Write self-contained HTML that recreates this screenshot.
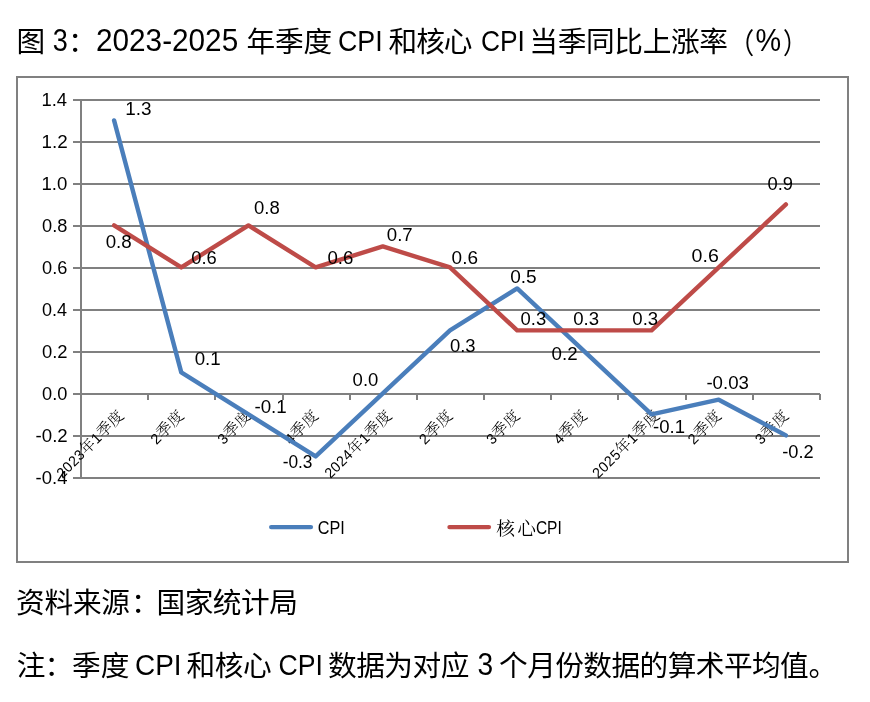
<!DOCTYPE html>
<html lang="zh-CN"><head><meta charset="utf-8"><title>图 3：2023-2025 年季度 CPI 和核心 CPI 当季同比上涨率（%）</title>
<style>
html,body{margin:0;padding:0;background:#fff;}
svg{display:block;font-family:"Liberation Sans","Noto Sans CJK SC",sans-serif;}
text{fill:#000;}
</style></head><body>
<svg width="870" height="702" viewBox="0 0 870 702">
<rect x="0" y="0" width="870" height="702" fill="#fff"/>
<rect x="17" y="77" width="831" height="485" fill="#fff" stroke="#808080" stroke-width="2"/>
<g stroke="#808080" stroke-width="2" fill="none"><line x1="73" y1="100" x2="820" y2="100"/><line x1="73" y1="142" x2="820" y2="142"/><line x1="73" y1="184" x2="820" y2="184"/><line x1="73" y1="226" x2="820" y2="226"/><line x1="73" y1="268" x2="820" y2="268"/><line x1="73" y1="310" x2="820" y2="310"/><line x1="73" y1="352" x2="820" y2="352"/><line x1="73" y1="394" x2="820" y2="394"/><line x1="73" y1="436" x2="820" y2="436"/><line x1="73" y1="478" x2="820" y2="478"/>
<line x1="81" y1="99" x2="81" y2="479"/>
<line x1="148" y1="394" x2="148" y2="400"/><line x1="215" y1="394" x2="215" y2="400"/><line x1="283" y1="394" x2="283" y2="400"/><line x1="350" y1="394" x2="350" y2="400"/><line x1="417" y1="394" x2="417" y2="400"/><line x1="484" y1="394" x2="484" y2="400"/><line x1="551" y1="394" x2="551" y2="400"/><line x1="618" y1="394" x2="618" y2="400"/><line x1="686" y1="394" x2="686" y2="400"/><line x1="753" y1="394" x2="753" y2="400"/><line x1="820" y1="394" x2="820" y2="400"/></g>
<text transform="translate(124.99,416.50) rotate(-45) scale(0.972,1)" text-anchor="end" letter-spacing="0.45" font-size="15.6" font-family='"Liberation Sans","Noto Serif CJK SC",serif' font-weight="300"><tspan font-size="14.6">2023</tspan>年<tspan font-size="14.6">1</tspan>季度</text>
<text transform="translate(185.14,416.50) rotate(-45)" text-anchor="end" letter-spacing="0.45" font-size="15.6" font-family='"Liberation Sans","Noto Serif CJK SC",serif' font-weight="300"><tspan font-size="14.6">2</tspan>季度</text>
<text transform="translate(252.32,416.50) rotate(-45)" text-anchor="end" letter-spacing="0.45" font-size="15.6" font-family='"Liberation Sans","Noto Serif CJK SC",serif' font-weight="300"><tspan font-size="14.6">3</tspan>季度</text>
<text transform="translate(319.51,416.50) rotate(-45)" text-anchor="end" letter-spacing="0.45" font-size="15.6" font-family='"Liberation Sans","Noto Serif CJK SC",serif' font-weight="300"><tspan font-size="14.6">4</tspan>季度</text>
<text transform="translate(392.99,416.50) rotate(-45) scale(0.972,1)" text-anchor="end" letter-spacing="0.45" font-size="15.6" font-family='"Liberation Sans","Noto Serif CJK SC",serif' font-weight="300"><tspan font-size="14.6">2024</tspan>年<tspan font-size="14.6">1</tspan>季度</text>
<text transform="translate(453.87,416.50) rotate(-45)" text-anchor="end" letter-spacing="0.45" font-size="15.6" font-family='"Liberation Sans","Noto Serif CJK SC",serif' font-weight="300"><tspan font-size="14.6">2</tspan>季度</text>
<text transform="translate(521.05,416.50) rotate(-45)" text-anchor="end" letter-spacing="0.45" font-size="15.6" font-family='"Liberation Sans","Noto Serif CJK SC",serif' font-weight="300"><tspan font-size="14.6">3</tspan>季度</text>
<text transform="translate(588.23,416.50) rotate(-45)" text-anchor="end" letter-spacing="0.45" font-size="15.6" font-family='"Liberation Sans","Noto Serif CJK SC",serif' font-weight="300"><tspan font-size="14.6">4</tspan>季度</text>
<text transform="translate(660.79,416.50) rotate(-45) scale(0.972,1)" text-anchor="end" letter-spacing="0.45" font-size="15.6" font-family='"Liberation Sans","Noto Serif CJK SC",serif' font-weight="300"><tspan font-size="14.6">2025</tspan>年<tspan font-size="14.6">1</tspan>季度</text>
<text transform="translate(722.60,416.50) rotate(-45)" text-anchor="end" letter-spacing="0.45" font-size="15.6" font-family='"Liberation Sans","Noto Serif CJK SC",serif' font-weight="300"><tspan font-size="14.6">2</tspan>季度</text>
<text transform="translate(789.78,416.50) rotate(-45)" text-anchor="end" letter-spacing="0.45" font-size="15.6" font-family='"Liberation Sans","Noto Serif CJK SC",serif' font-weight="300"><tspan font-size="14.6">3</tspan>季度</text>
<polyline points="114.09,120.40 181.27,372.40 248.45,414.40 315.64,456.40 382.82,393.40 450.00,330.40 517.18,288.40 584.36,351.40 651.55,414.40 718.73,399.70 785.91,435.40" fill="none" stroke="#4a7ebb" stroke-width="4.4" stroke-linecap="round" stroke-linejoin="round"/>
<polyline points="114.09,225.40 181.27,267.40 248.45,225.40 315.64,267.40 382.82,246.40 450.00,267.40 517.18,330.40 584.36,330.40 651.55,330.40 718.73,267.40 785.91,204.40" fill="none" stroke="#be4b48" stroke-width="4.4" stroke-linecap="round" stroke-linejoin="round"/>
<line x1="271.2" y1="527.1" x2="310.9" y2="527.1" stroke="#4a7ebb" stroke-width="4.4" stroke-linecap="round"/>
<line x1="449.5" y1="527.1" x2="488.9" y2="527.1" stroke="#be4b48" stroke-width="4.4" stroke-linecap="round"/>
<text x="16.50" y="52.20" font-size="28.7">图</text>
<text transform="translate(52.64,51.30) scale(0.8459,1)" font-size="32.0">3</text>
<text x="67.90" y="52.20" font-size="28.7">：</text>
<text transform="translate(96.01,51.30) scale(0.9298,1)" font-size="32.0">2023-2025</text>
<text x="246.50" y="52.20" font-size="28.7" letter-spacing="-0.225">年季度</text>
<text transform="translate(337.94,51.30) scale(0.9089,1)" font-size="29.5">CPI</text>
<text x="388.45" y="52.20" font-size="28.7" letter-spacing="-0.975">和核心</text>
<text transform="translate(480.96,51.30) scale(0.8933,1)" font-size="29.5">CPI</text>
<text x="529.35" y="52.20" font-size="28.7" letter-spacing="-0.358">当季同比上涨率</text>
<text transform="translate(728.47,54.00) scale(0.8966,1)" font-size="28.7">（</text>
<text transform="translate(755.48,51.30) scale(0.9000,1)" font-size="32.0">%</text>
<text transform="translate(783.04,54.00) scale(0.8414,1)" font-size="28.7">）</text>
<text x="16.10" y="612.60" font-size="28.7" letter-spacing="-0.283">资料来源</text>
<text x="130.90" y="612.60" font-size="28.7">：</text>
<text x="156.50" y="612.60" font-size="28.7" letter-spacing="-0.500">国家统计局</text>
<text x="16.75" y="676.30" font-size="28.7">注</text>
<text x="44.50" y="676.30" font-size="28.7">：</text>
<text x="71.95" y="676.30" font-size="28.7" letter-spacing="0.200">季度</text>
<text transform="translate(134.98,675.00) scale(0.9467,1)" font-size="29.5">CPI</text>
<text x="186.45" y="676.30" font-size="28.7" letter-spacing="-0.375">和核心</text>
<text transform="translate(278.54,675.00) scale(0.9044,1)" font-size="29.5">CPI</text>
<text x="327.95" y="676.30" font-size="28.7" letter-spacing="-0.475">数据为对应</text>
<text transform="translate(477.50,675.00) scale(0.8787,1)" font-size="32.0">3</text>
<text x="499.05" y="676.30" font-size="28.7" letter-spacing="-0.580">个月份数据的算术平均值</text>
<text x="808.55" y="676.30" font-size="28.7">。</text>
<text transform="translate(41.49,106.00) scale(1.0462,1)" font-size="17.6">1.4</text>
<text transform="translate(41.46,148.00) scale(1.0697,1)" font-size="17.6">1.2</text>
<text transform="translate(41.48,190.00) scale(1.0578,1)" font-size="17.6">1.0</text>
<text transform="translate(42.02,232.00) scale(1.0348,1)" font-size="17.6">0.8</text>
<text transform="translate(42.02,274.00) scale(1.0348,1)" font-size="17.6">0.6</text>
<text transform="translate(42.03,316.00) scale(1.0237,1)" font-size="17.6">0.4</text>
<text transform="translate(42.02,358.00) scale(1.0462,1)" font-size="17.6">0.2</text>
<text transform="translate(42.02,400.00) scale(1.0348,1)" font-size="17.6">0.0</text>
<text transform="translate(35.60,442.00) scale(1.0609,1)" font-size="17.6">-0.2</text>
<text transform="translate(35.61,484.00) scale(1.0517,1)" font-size="17.6">-0.4</text>
<text transform="translate(125.16,115.20) scale(1.0756,1)" font-size="17.6">1.3</text>
<text transform="translate(194.70,364.50) scale(1.0637,1)" font-size="17.6">0.1</text>
<text transform="translate(254.40,412.80) scale(1.0678,1)" font-size="17.6">-0.1</text>
<text transform="translate(282.66,468.00) scale(0.9843,1)" font-size="17.6">-0.3</text>
<text transform="translate(352.61,386.20) scale(1.0522,1)" font-size="17.6">0.0</text>
<text transform="translate(449.91,352.40) scale(1.0478,1)" font-size="17.6">0.3</text>
<text transform="translate(510.19,282.80) scale(1.0826,1)" font-size="17.6">0.5</text>
<text transform="translate(551.60,359.70) scale(1.0637,1)" font-size="17.6">0.2</text>
<text transform="translate(653.01,432.80) scale(1.0539,1)" font-size="17.6">-0.1</text>
<text transform="translate(706.41,389.30) scale(1.0597,1)" font-size="17.6">-0.03</text>
<text transform="translate(782.22,457.60) scale(1.0365,1)" font-size="17.6">-0.2</text>
<text transform="translate(105.70,248.00) scale(1.0652,1)" font-size="17.6">0.8</text>
<text transform="translate(191.22,263.80) scale(1.0435,1)" font-size="17.6">0.6</text>
<text transform="translate(254.01,213.80) scale(1.0522,1)" font-size="17.6">0.8</text>
<text transform="translate(327.50,263.80) scale(1.0609,1)" font-size="17.6">0.6</text>
<text transform="translate(386.81,240.70) scale(1.0593,1)" font-size="17.6">0.7</text>
<text transform="translate(451.59,263.80) scale(1.0783,1)" font-size="17.6">0.6</text>
<text transform="translate(520.61,324.80) scale(1.0478,1)" font-size="17.6">0.3</text>
<text transform="translate(573.21,324.80) scale(1.0565,1)" font-size="17.6">0.3</text>
<text transform="translate(632.31,324.70) scale(1.0565,1)" font-size="17.6">0.3</text>
<text transform="translate(691.57,262.30) scale(1.1130,1)" font-size="17.6">0.6</text>
<text transform="translate(767.52,190.30) scale(1.0435,1)" font-size="17.6">0.9</text>
<text transform="translate(317.68,534.20) scale(0.9234,1)" font-size="17.6">CPI</text>
<text x="496.30" y="534.60" font-size="18.7" font-family='"Liberation Sans","Noto Serif CJK SC",serif' letter-spacing="2.200">核心</text>
<text transform="translate(535.92,534.20) scale(0.8822,1)" font-size="17.6">CPI</text>
</svg>
</body></html>
